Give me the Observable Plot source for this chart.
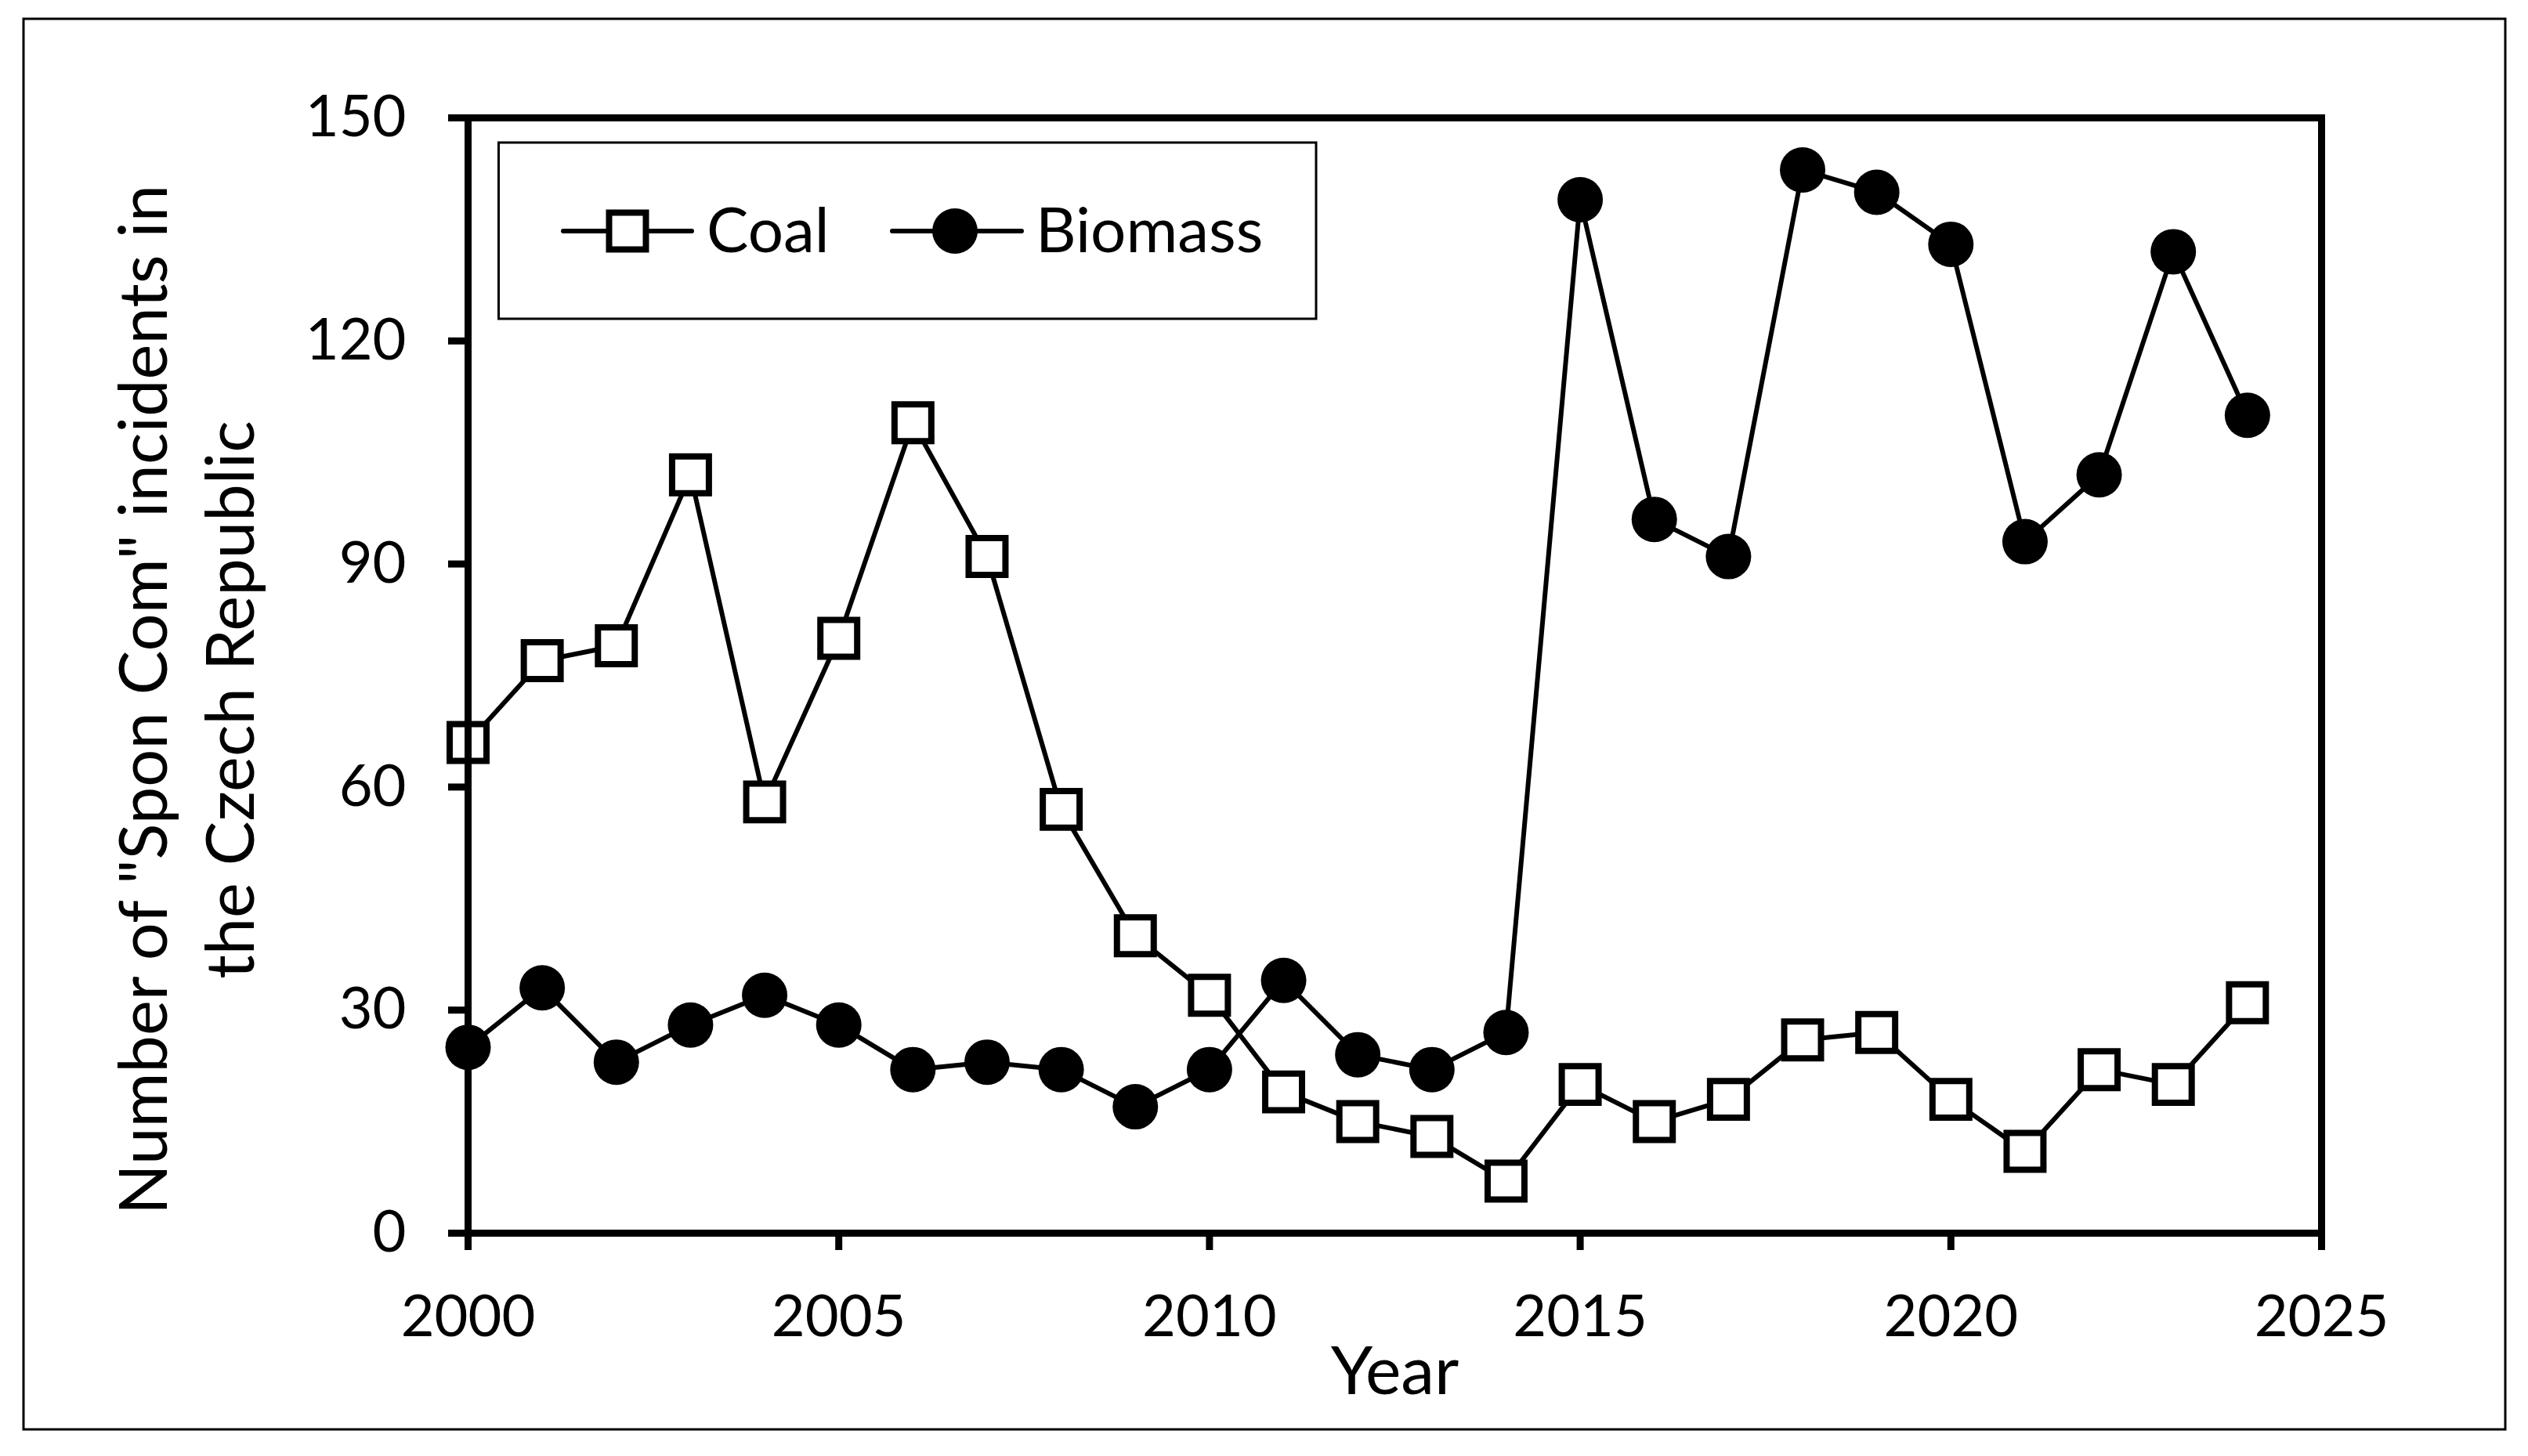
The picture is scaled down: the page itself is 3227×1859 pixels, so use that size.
<!DOCTYPE html>
<html>
<head>
<meta charset="utf-8">
<script src="https://cdn.jsdelivr.net/npm/d3@7"></script>
<script src="https://cdn.jsdelivr.net/npm/@observablehq/plot@0.6"></script>
<style>
  html, body { margin: 0; padding: 0; background: #fff; }
  #wrap { position: relative; width: 3227px; height: 1859px; }
  #overlay { position: absolute; left: 0; top: 0; pointer-events: none; }
</style>
</head>
<body>
<div id="wrap"></div>
<script>
// ---- data ----
const years = [2000,2001,2002,2003,2004,2005,2006,2007,2008,2009,2010,2011,2012,2013,2014,2015,2016,2017,2018,2019,2020,2021,2022,2023,2024];
const coal = [66,77,79,102,58,80,109,91,57,40,32,19,15,13,7,20,15,18,26,27,18,11,22,20,31];
const biomass = [25,33,23,28,32,28,22,23,22,17,22,34,24,22,27,139,96,91,143,140,133,93,102,132,110];
const seriesNames = ["Coal", "Biomass"];
const xTicks = [2000,2005,2010,2015,2020,2025];
const yTicks = [0,30,60,90,120,150];
const xLabel = "Year";
const yLabel = "Number of \"Spon Com\" incidents in\nthe Czech Republic";

const coalData = years.map((y, i) => ({year: y, value: coal[i]}));
const bioData = years.map((y, i) => ({year: y, value: biomass[i]}));

const W = 3227, H = 1859;
const font = "Lato, 'Open Sans', sans-serif";

const chart = Plot.plot({
  width: W,
  height: H,
  marginLeft: 597,
  marginRight: 264,
  marginTop: 150,
  marginBottom: 285,
  style: {fontFamily: font, fontSize: "74px", color: "#000", background: "#fff"},
  x: {domain: [2000, 2025]},
  y: {domain: [0, 150]},
  marks: [
    Plot.line(coalData, {x: "year", y: "value", stroke: "#000", strokeWidth: 6}),
    Plot.line(bioData, {x: "year", y: "value", stroke: "#000", strokeWidth: 6}),
    Plot.dot(coalData, {x: "year", y: "value", symbol: "square", r: 26.5, fill: "#fff", stroke: "#000", strokeWidth: 8}),
    Plot.dot(bioData, {x: "year", y: "value", symbol: "circle", r: 29, fill: "#000", stroke: "none"}),
    Plot.frame({stroke: "#000", strokeWidth: 9}),
    Plot.axisX({ticks: xTicks, tickFormat: d => String(d), tickSize: 22, tickPadding: 57, strokeWidth: 9, fontSize: 74, label: null}),
    Plot.axisY({ticks: yTicks, tickFormat: d => String(d), tickSize: 25, tickPadding: 54, strokeWidth: 9, fontSize: 74, label: null}),
    Plot.text([xLabel], {frameAnchor: "bottom", dy: 178, fontSize: 86, lineAnchor: "middle", textAnchor: "middle"}),
    Plot.text([yLabel], {frameAnchor: "left", dx: -365, dy: 31, rotate: -90, fontSize: 85, lineHeight: 1.306, lineAnchor: "middle", textAnchor: "middle"})
  ]
});

const wrap = document.getElementById("wrap");
wrap.appendChild(chart);

// ---- overlay: outer border and legend ----
const ns = "http://www.w3.org/2000/svg";
const svg = d3.select(wrap).append("svg")
  .attr("id", "overlay")
  .attr("xmlns", ns)
  .attr("width", W).attr("height", H);

svg.append("rect").attr("x", 30).attr("y", 24).attr("width", 3168).attr("height", 1801)
  .attr("fill", "none").attr("stroke", "#000").attr("stroke-width", 3);

const lg = svg.append("g");
lg.append("rect").attr("x", 636.5).attr("y", 182).attr("width", 1043.5).attr("height", 225)
  .attr("fill", "#fff").attr("stroke", "#000").attr("stroke-width", 3);

const items = [
  {name: seriesNames[0], x0: 719, x1: 883, cx: 801, tx: 902, kind: "square"},
  {name: seriesNames[1], x0: 1139, x1: 1304, cx: 1219, tx: 1322, kind: "circle"}
];
const ly = 295;
items.forEach(it => {
  lg.append("line").attr("x1", it.x0).attr("x2", it.x1).attr("y1", ly).attr("y2", ly)
    .attr("stroke", "#000").attr("stroke-width", 6).attr("stroke-linecap", "round");
  if (it.kind === "square") {
    lg.append("rect").attr("x", it.cx - 23.5).attr("y", ly - 23.5).attr("width", 47).attr("height", 47)
      .attr("fill", "#fff").attr("stroke", "#000").attr("stroke-width", 8);
  } else {
    lg.append("circle").attr("cx", it.cx).attr("cy", ly).attr("r", 29).attr("fill", "#000");
  }
  lg.append("text").attr("x", it.tx).attr("y", 322).attr("font-family", font).attr("font-size", 80)
    .attr("fill", "#000").text(it.name);
});
</script>
</body>
</html>
